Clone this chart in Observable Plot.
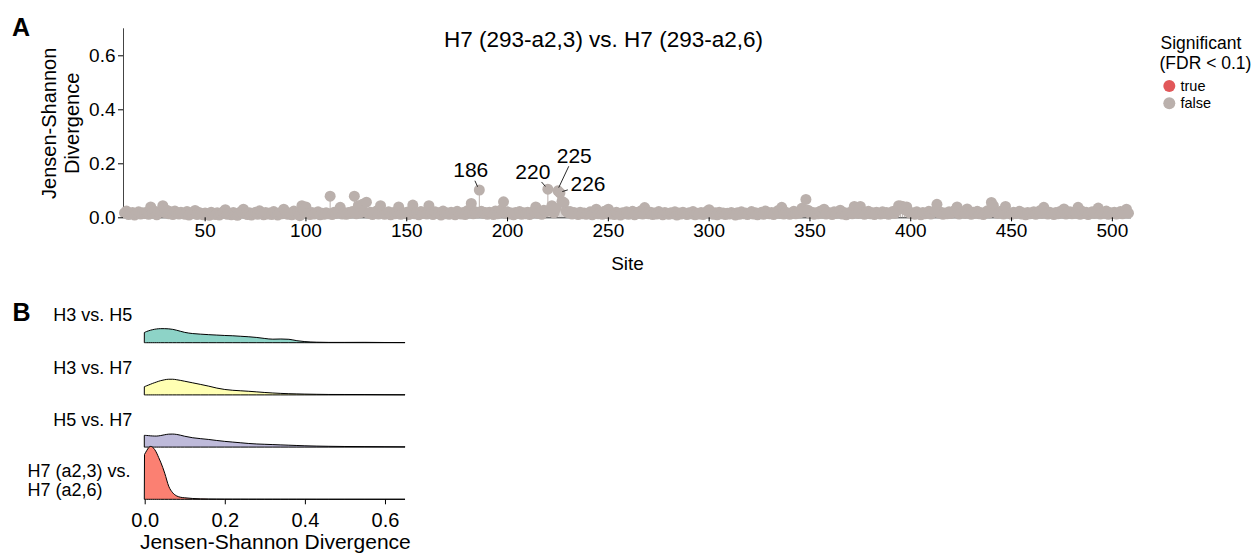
<!DOCTYPE html>
<html><head><meta charset="utf-8">
<script src="https://cdn.jsdelivr.net/npm/d3@7"></script>
<script src="https://cdn.jsdelivr.net/npm/@observablehq/plot@0.6"></script>
<style>
body{margin:0;background:#fff;}
#fig{position:relative;width:1256px;height:554px;font-family:"Liberation Sans",Arial,Helvetica,sans-serif;overflow:hidden;background:#fff;}
#fig svg{position:absolute;overflow:visible;}
.tag{position:absolute;font-weight:bold;font-size:25px;line-height:1;}
</style></head><body>
<div id="fig">
  <div class="tag" style="left:12px;top:15px">A</div>
  <div class="tag" style="left:12.5px;top:300px">B</div>
</div>
<script>
// ---------- Panel A data ----------
const sites = d3.range(10, 509); // sites 10..508
const jsd = [
 .018,.025,.012,.015,.020,.010,.017,.022,.014,.019,
 .016,.021,.013,.040,.018,.024,.011,.020,.026,.045,
 .019,.028,.015,.022,.012,.025,.018,.014,.021,.017,
 .013,.023,.010,.019,.016,.027,.012,.020,.015,.011,
 .018,.014,.009,.021,.016,.012,.019,.010,.015,.022,
 .030,.013,.017,.011,.020,.014,.009,.018,.024,.032,
 .015,.012,.019,.010,.016,.021,.013,.026,.017,.011,
 .020,.014,.018,.012,.023,.016,.010,.019,.015,.032,
 .021,.013,.017,.011,.025,.014,.019,.008,.045,.028,
 .040,.016,.012,.020,.014,.018,.022,.011,.017,.013,
 .019,.015,.080,.012,.021,.016,.024,.039,.014,.018,
 .013,.020,.017,.023,.080,.015,.045,.019,.050,.022,
 .058,.016,.021,.012,.018,.025,.014,.045,.020,.013,
 .017,.022,.011,.019,.015,.024,.040,.013,.018,.016,
 .021,.012,.026,.047,.015,.019,.011,.023,.016,.020,
 .014,.045,.018,.012,.022,.016,.019,.010,.025,.015,
 .018,.013,.021,.016,.011,.024,.017,.014,.020,.012,
 .026,.019,.053,.015,.022,.018,.103,.024,.016,.020,
 .013,.021,.017,.012,.025,.015,.019,.030,.059,.016,
 .022,.014,.018,.011,.020,.016,.023,.013,.019,.015,
 .021,.012,.018,.024,.040,.016,.020,.013,.028,.022,
 .106,.030,.045,.018,.035,.100,.092,.061,.056,.025,
 .019,.023,.014,.020,.016,.012,.021,.015,.018,.013,
 .017,.022,.011,.019,.032,.015,.020,.013,.024,.016,
 .032,.014,.018,.012,.021,.016,.010,.019,.015,.022,
 .013,.018,.024,.011,.020,.016,.025,.014,.038,.019,
 .015,.021,.012,.018,.014,.023,.016,.011,.020,.017,
 .013,.019,.015,.022,.010,.018,.014,.021,.016,.012,
 .019,.015,.023,.011,.017,.014,.020,.012,.018,.024,
 .030,.016,.013,.019,.011,.021,.015,.018,.012,.017,
 .014,.020,.016,.010,.019,.013,.022,.015,.018,.012,
 .017,.023,.014,.019,.011,.016,.021,.013,.025,.018,
 .015,.020,.012,.018,.026,.016,.039,.014,.021,.017,
 .013,.019,.024,.015,.020,.018,.035,.022,.068,.028,
 .016,.021,.013,.019,.015,.024,.017,.032,.014,.020,
 .018,.012,.022,.016,.019,.028,.014,.020,.011,.017,
 .021,.015,.042,.019,.016,.042,.020,.013,.018,.024,
 .015,.019,.012,.021,.017,.014,.022,.016,.020,.013,
 .018,.023,.016,.028,.045,.044,.042,.030,.040,.021,
 .016,.019,.013,.022,.017,.011,.020,.015,.018,.024,
 .014,.019,.026,.050,.017,.021,.013,.018,.015,.022,
 .016,.020,.028,.040,.014,.019,.022,.016,.033,.018,
 .013,.021,.017,.024,.015,.019,.012,.020,.026,.018,
 .057,.045,.022,.016,.019,.025,.014,.042,.020,.017,
 .013,.021,.016,.019,.024,.014,.018,.011,.020,.015,
 .019,.022,.013,.017,.026,.016,.039,.018,.014,.021,
 .016,.012,.020,.015,.023,.018,.033,.014,.019,.022,
 .015,.020,.017,.039,.013,.024,.016,.021,.012,.018,
 .022,.016,.019,.036,.014,.020,.017,.025,.013,.019,
 .016,.021,.014,.018,.023,.015,.020,.032,.017
];
const significantSites = []; // no site passes FDR < 0.1
const sigLevels = ["true", "false"];
const sigColors = ["#E15759", "#BAB0AC"];
const labelSites = [186, 220, 225, 226];
const labelOffsets = [[-8.6, -19.3], [-15, -17.3], [16.3, -34.6], [28, -8.7]]; // repel label offsets (px)
const xTicksA = [50, 100, 150, 200, 250, 300, 350, 400, 450, 500];
const yTicksA = [0, 0.2, 0.4, 0.6];
const titleA = "H7 (293-a2,3) vs. H7 (293-a2,6)";

// ---------- Panel B data ----------
const comparisons = ["H3 vs. H5", "H3 vs. H7", "H5 vs. H7", "H7 (a2,3) vs.\nH7 (a2,6)"];
const ridgeColors = ["#8dd3c7", "#ffffb3", "#bebada", "#fb8072"];
const jsdGrid = [0,0.005,0.01,0.015,0.02,0.025,0.03,0.035,0.04,0.05,0.06,0.07,0.08,0.09,0.10,0.12,0.14,0.16,0.18,0.20,0.22,0.24,0.26,0.28,0.30,0.32,0.34,0.36,0.38,0.40,0.43,0.46,0.50,0.55,0.60,0.65];
const densH3H5 = [5.15,5.6,5.95,6.25,6.5,6.7,6.85,6.95,7.0,7.0,6.9,6.65,6.2,5.65,5.15,4.55,4.25,4.0,3.8,3.6,3.45,3.2,2.95,2.6,2.1,1.75,1.85,1.7,1.0,0.55,0.25,0.15,0.15,0.18,0.1,0.08];
const densH3H7 = [4.15,4.55,4.95,5.35,5.75,6.1,6.45,6.8,7.1,7.55,7.8,7.8,7.55,7.2,6.8,6.0,5.2,4.35,3.4,2.7,2.3,2.05,1.8,1.5,1.2,0.95,0.75,0.6,0.5,0.4,0.3,0.22,0.2,0.18,0.12,0.08];
const densH5H7 = [5.85,5.8,5.7,5.6,5.55,5.5,5.5,5.6,5.75,6.15,6.45,6.5,6.3,5.9,5.4,4.65,4.2,3.8,3.3,2.85,2.5,2.15,1.8,1.55,1.4,1.25,1.1,0.95,0.8,0.65,0.5,0.4,0.3,0.25,0.2,0.15];
const densH7H7 = [22.5,24.25,25.75,26.35,25.9,24.75,23.0,20.75,18.5,13.0,6.5,3.25,1.65,1.0,0.75,0.4,0.22,0.15,0.12,0.1,0.08,0.08,0.07,0.07,0.06,0.06,0.05,0.05,0.05,0.05,0.04,0.04,0.04,0.03,0.03,0.03];
const xTicksB = [0, 0.2, 0.4, 0.6];

const FONT = '"Liberation Sans", Arial, Helvetica, sans-serif';
const fig = document.getElementById("fig");

// ---------- Panel A ----------
const siteData = sites.map((s, i) => ({site: s, jsd: jsd[i], sig: significantSites.includes(s) ? "true" : "false"}));
const labelData = labelSites.map((s, i) => ({site: s, jsd: jsd[sites.indexOf(s)], off: labelOffsets[i]}));
const X0 = 9.5, X1 = 509.5;
const plotA = Plot.plot({
  width: 1140, height: 285,
  marginLeft: 123, marginRight: 9, marginTop: 28.3, marginBottom: 67.7,
  style: {fontFamily: FONT, color: "#000", background: "transparent", overflow: "visible"},
  x: {domain: [X0, X1]},
  y: {domain: [0, 0.7]},
  color: {domain: sigLevels, range: sigColors},
  marks: [
    Plot.ruleY([0], {stroke: "#222", strokeWidth: 1}),
    Plot.ruleX([X0], {stroke: "#444", strokeWidth: 1}),
    Plot.ruleX(siteData, {x: "site", y1: 0, y2: "jsd", stroke: "sig", strokeWidth: 1}),
    Plot.dot(siteData, {x: "site", y: "jsd", r: 5.5, fill: "sig"}),
    Plot.axisX({ticks: xTicksA, tickSize: 4, tickPadding: 2, fontSize: 19, label: null}),
    Plot.axisY({ticks: yTicksA, tickFormat: d3.format(".1f"), tickSize: 5, tickPadding: 3, fontSize: 19, label: null}),
    Plot.text([titleA], {frameAnchor: "top", dx: -24, dy: 11.2, fontSize: 22.5, lineAnchor: "middle"}),
    Plot.text(["Site"], {frameAnchor: "bottom", dy: 46, fontSize: 19, lineAnchor: "middle"}),
    Plot.text(["Jensen-Shannon\nDivergence"], {frameAnchor: "left", rotate: -90, dx: -63.5, fontSize: 20, lineHeight: 1.15, lineAnchor: "middle", textAnchor: "middle"}),
    ...labelData.map(d => Plot.text([d], {x: "site", y: "jsd", text: v => String(v.site), dx: d.off[0], dy: d.off[1], fontSize: 21, lineAnchor: "middle"}))
  ]
});
plotA.style.left = "0px"; plotA.style.top = "0px";
fig.appendChild(plotA);

// leader segments (ggrepel style) placed through the plot's scales
{
  const sx = plotA.scale("x"), sy = plotA.scale("y");
  const g = d3.select(plotA).append("g").attr("stroke", "#111").attr("stroke-width", 0.9);
  labelData.forEach(d => {
    const px = sx.apply(d.site), py = sy.apply(d.jsd);
    const cx = px + d.off[0], cy = py + d.off[1];
    const vx = cx - px, vy = cy - py, len = Math.hypot(vx, vy);
    const hw = 0.28 * 21 * String(d.site).length + 2, hh = 0.36 * 21 + 3;
    const t = Math.min(Math.abs(hw / vx), Math.abs(hh / vy));
    const s0 = 3 / len;
    g.append("line")
      .attr("x1", px + vx * s0).attr("y1", py + vy * s0)
      .attr("x2", px + vx * (1 - t)).attr("y2", py + vy * (1 - t));
  });
}

// legend
{
  const col = plotA.scale("color");
  const svg = d3.create("svg").attr("width", 116).attr("height", 130)
    .style("left", "1140px").style("top", "0px")
    .attr("font-family", FONT);
  svg.append("text").attr("x", 20.5).attr("y", 43.5).attr("dy", "0.32em").attr("font-size", 17.5).text("Significant");
  svg.append("text").attr("x", 19.5).attr("y", 63.3).attr("dy", "0.32em").attr("font-size", 17.5).text("(FDR < 0.1)");
  sigLevels.forEach((lv, i) => {
    const y = 86 + i * 17.3;
    svg.append("circle").attr("cx", 29.3).attr("cy", y).attr("r", 6).attr("fill", col.apply(lv));
    svg.append("text").attr("x", 40.5).attr("y", y).attr("dy", "0.32em").attr("font-size", 14.5).text(lv);
  });
  fig.appendChild(svg.node());
}

// ---------- Panel B ----------
const SPACING = 26; // density units between ridge baselines
const densities = [densH3H5, densH3H7, densH5H7, densH7H7];
const nRows = comparisons.length;
const ridgeData = [];
comparisons.forEach((c, i) => {
  const base = (nRows - 1 - i) * SPACING;
  jsdGrid.forEach((x, j) => ridgeData.push({cmp: c, x, base, top: base + densities[i][j]}));
});
const rowBase = c => (nRows - 1 - comparisons.indexOf(c)) * SPACING;
const plotB = Plot.plot({
  width: 420, height: 264,
  marginLeft: 144.7, marginRight: 15, marginTop: 0.5, marginBottom: 54.7,
  style: {fontFamily: FONT, color: "#000", background: "transparent", overflow: "visible"},
  x: {domain: [0, 0.65]},
  y: {domain: [0, nRows * SPACING], axis: null},
  color: {domain: comparisons, range: ridgeColors},
  marks: [
    ...comparisons.map(c => Plot.area(ridgeData.filter(d => d.cmp === c), {x1: "x", y1: "base", y2: "top", fill: "cmp", stroke: "#000", strokeWidth: 1, curve: "monotone-x"})),
    Plot.axisX({ticks: xTicksB, tickFormat: d3.format(".1f"), tickSize: 5, tickPadding: 8, fontSize: 20, label: null}),
    Plot.text(["Jensen-Shannon Divergence"], {frameAnchor: "bottom", dy: 42.3, fontSize: 21, lineAnchor: "middle"}),
    Plot.text(comparisons.filter(c => !c.includes("\n")), {x: () => 0, y: rowBase, text: d => d, textAnchor: "end", dx: -13, dy: -27.5, fontSize: 18, lineAnchor: "middle"}),
    Plot.text(comparisons.filter(c => c.includes("\n")), {x: () => 0, y: rowBase, text: d => d, textAnchor: "start", dx: -117.7, dy: -19.8, fontSize: 18, lineHeight: 1.06, lineAnchor: "middle"})
  ]
});
plotB.style.left = "0px"; plotB.style.top = "290px";
fig.appendChild(plotB);
</script>
</body></html>
